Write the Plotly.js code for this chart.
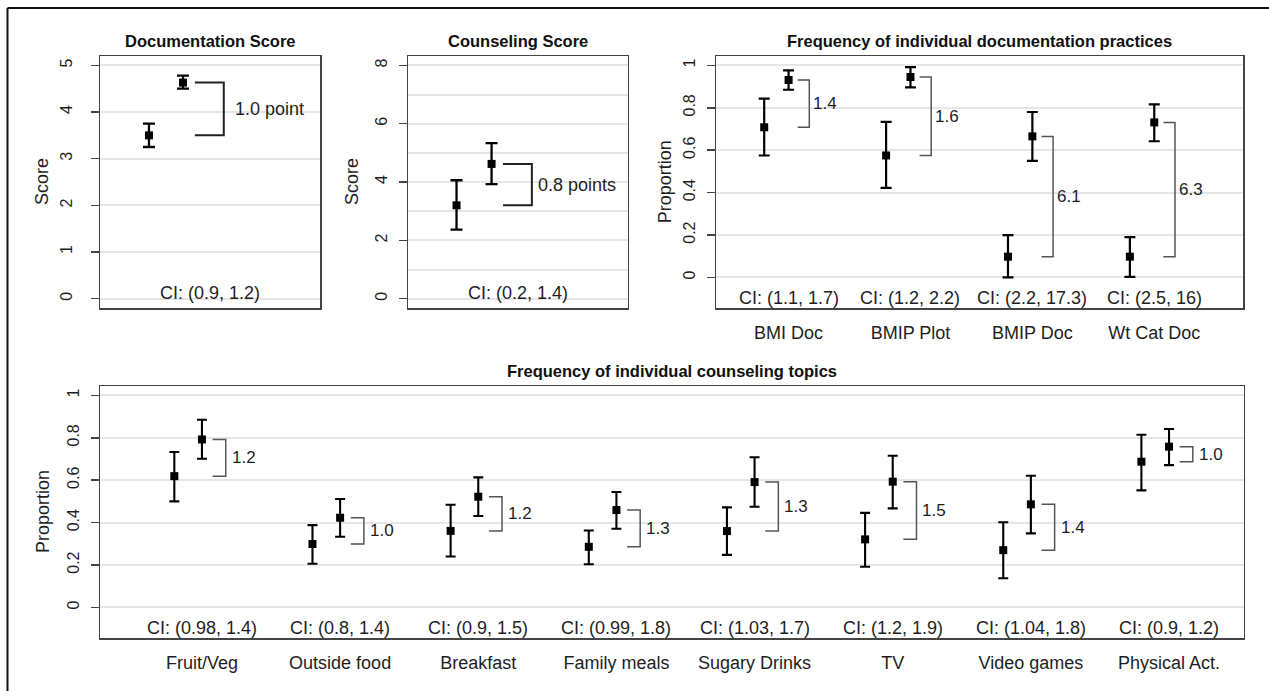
<!DOCTYPE html>
<html>
<head>
<meta charset="utf-8">
<script src="https://cdn.plot.ly/plotly-3.0.1.min.js"></script>
<style>html,body{margin:0;padding:0;background:#fff;}#chart{width:1269px;height:691px;}</style>
</head>
<body>
<div id="chart"></div>
<script>
// ---------------- DATA ----------------
// Panel 1: Documentation Score
const docScoreCtrl = 3.5,  docScoreCtrlLo = 3.25, docScoreCtrlHi = 3.75;
const docScoreInt  = 4.63, docScoreIntLo  = 4.5,  docScoreIntHi  = 4.78;
const docScoreDiff = '1.0 point';
const docScoreCI   = 'CI: (0.9, 1.2)';

// Panel 2: Counseling Score
const cnsScoreCtrl = 3.2,  cnsScoreCtrlLo = 2.37, cnsScoreCtrlHi = 4.06;
const cnsScoreInt  = 4.62, cnsScoreIntLo  = 3.93, cnsScoreIntHi  = 5.33;
const cnsScoreDiff = '0.8 points';
const cnsScoreCI   = 'CI: (0.2, 1.4)';

// Panel 3: Frequency of individual documentation practices
const docCats   = ['BMI Doc', 'BMIP Plot', 'BMIP Doc', 'Wt Cat Doc'];
const docCtrl   = [0.708, 0.575, 0.098, 0.098];
const docCtrlLo = [0.575, 0.422, 0.0,   0.003];
const docCtrlHi = [0.843, 0.733, 0.2,   0.19];
const docInt    = [0.931, 0.945, 0.665, 0.731];
const docIntLo  = [0.885, 0.896, 0.55,  0.642];
const docIntHi  = [0.976, 0.992, 0.78,  0.816];
const docOR     = ['1.4', '1.6', '6.1', '6.3'];
const docCI     = ['CI: (1.1, 1.7)', 'CI: (1.2, 2.2)', 'CI: (2.2, 17.3)', 'CI: (2.5, 16)'];

// Panel 4: Frequency of individual counseling topics
const topCats   = ['Fruit/Veg', 'Outside food', 'Breakfast', 'Family meals', 'Sugary Drinks', 'TV', 'Video games', 'Physical Act.'];
const topCtrl   = [0.619, 0.299, 0.361, 0.286, 0.36,  0.321, 0.27,  0.687];
const topCtrlLo = [0.5,   0.206, 0.24,  0.204, 0.248, 0.192, 0.138, 0.552];
const topCtrlHi = [0.733, 0.388, 0.484, 0.363, 0.472, 0.446, 0.402, 0.814];
const topInt    = [0.792, 0.423, 0.522, 0.459, 0.591, 0.593, 0.486, 0.758];
const topIntLo  = [0.701, 0.333, 0.431, 0.371, 0.475, 0.467, 0.349, 0.671];
const topIntHi  = [0.885, 0.511, 0.613, 0.544, 0.708, 0.715, 0.621, 0.841];
const topOR     = ['1.2', '1.0', '1.2', '1.3', '1.3', '1.5', '1.4', '1.0'];
const topCI     = ['CI: (0.98, 1.4)', 'CI: (0.8, 1.4)', 'CI: (0.9, 1.5)', 'CI: (0.99, 1.8)', 'CI: (1.03, 1.7)', 'CI: (1.2, 1.9)', 'CI: (1.04, 1.8)', 'CI: (0.9, 1.2)'];

// ---------------- STYLE / LAYOUT ----------------
const W = 1269, H = 691;
const FONT = 'Liberation Sans, Arial, Helvetica, sans-serif';
const TXT = '#1e1e1e';
const LINE = '#444';
const GRID = '#e6e6e6';
const CTRL_OFF = 0.2;

function px(x) { return x / W; }
function py(y) { return 1 - y / H; }
function xd(l, r) { return [px(l), px(r)]; }
function yd(t, b) { return [py(b), py(t)]; }

const traces = [];
const annotations = [];

function pointTrace(xa, ya, xs, ys, lo, hi, cap, thick) {
  return {
    type: 'scatter', mode: 'markers', xaxis: xa, yaxis: ya,
    x: xs, y: ys,
    marker: { symbol: 'square', size: 8, color: '#000' },
    error_y: {
      type: 'data', symmetric: false,
      array: ys.map((v, i) => hi[i] - v),
      arrayminus: ys.map((v, i) => v - lo[i]),
      color: '#000', thickness: thick, width: cap
    },
    hoverinfo: 'skip', cliponaxis: false
  };
}

function bracketTrace(xa, ya, pos, ctrl, inter, a, b, color, width) {
  const xs = [], ys = [];
  pos.forEach((p, i) => {
    xs.push(p + a, p + b, p + b, p + a, null);
    ys.push(inter[i], inter[i], ctrl[i], ctrl[i], null);
  });
  return {
    type: 'scatter', mode: 'lines', xaxis: xa, yaxis: ya, x: xs, y: ys,
    line: { color: color, width: width }, hoverinfo: 'skip', cliponaxis: false
  };
}

function panel(opt) {
  const pos = opt.ctrl.map((_, i) => i + 1);
  traces.push(pointTrace(opt.xa, opt.ya, pos.map(p => p - CTRL_OFF), opt.ctrl, opt.ctrlLo, opt.ctrlHi, opt.cap, opt.thick));
  traces.push(pointTrace(opt.xa, opt.ya, pos, opt.inter, opt.interLo, opt.interHi, opt.cap, opt.thick));
  traces.push(bracketTrace(opt.xa, opt.ya, pos, opt.ctrl, opt.inter, opt.br[0], opt.br[1], opt.brColor, opt.brWidth));
  pos.forEach((p, i) => {
    annotations.push({
      xref: opt.xa, yref: opt.ya, x: p + opt.br[1], y: (opt.ctrl[i] + opt.inter[i]) / 2,
      xanchor: 'left', yanchor: 'middle', xshift: opt.txtShift, showarrow: false,
      text: opt.diff[i], font: { family: FONT, size: opt.diffSize, color: TXT }
    });
    annotations.push({
      xref: opt.ciX === 'center' ? opt.xa + ' domain' : opt.xa,
      yref: opt.ya, x: opt.ciX === 'center' ? 0.5 : p, y: opt.ciY,
      xanchor: 'center', yanchor: 'middle', showarrow: false,
      text: opt.ci[i], font: { family: FONT, size: 18, color: TXT }
    });
  });
  annotations.push({
    xref: opt.xa + ' domain', yref: opt.ya + ' domain', x: 0.5, y: 1, yshift: 15,
    xanchor: 'center', yanchor: 'middle', showarrow: false,
    text: '<b>' + opt.title + '</b>', font: { family: FONT, size: 16.5, color: '#111' }
  });
  annotations.push({
    xref: opt.xa + ' domain', yref: opt.ya + ' domain', x: 0, y: 0.5, xshift: -opt.ytitleOff,
    xanchor: 'center', yanchor: 'middle', textangle: -90, showarrow: false,
    text: opt.ytitle, font: { family: FONT, size: 18, color: TXT }
  });
}

panel({ xa: 'x', ya: 'y', ctrl: [docScoreCtrl], ctrlLo: [docScoreCtrlLo], ctrlHi: [docScoreCtrlHi],
  inter: [docScoreInt], interLo: [docScoreIntLo], interHi: [docScoreIntHi],
  diff: [docScoreDiff], ci: [docScoreCI], ciX: 'center', ciY: 0.13,
  br: [0.07, 0.24], brColor: '#222', brWidth: 2, txtShift: 9, diffSize: 18, cap: 6, thick: 2.3,
  title: 'Documentation Score', ytitle: 'Score', ytitleOff: 58 });

panel({ xa: 'x2', ya: 'y2', ctrl: [cnsScoreCtrl], ctrlLo: [cnsScoreCtrlLo], ctrlHi: [cnsScoreCtrlHi],
  inter: [cnsScoreInt], interLo: [cnsScoreIntLo], interHi: [cnsScoreIntHi],
  diff: [cnsScoreDiff], ci: [cnsScoreCI], ciX: 'center', ciY: 0.2,
  br: [0.065, 0.23], brColor: '#222', brWidth: 2, txtShift: 4, diffSize: 18, cap: 6, thick: 2.3,
  title: 'Counseling Score', ytitle: 'Score', ytitleOff: 56 });

panel({ xa: 'x3', ya: 'y3', ctrl: docCtrl, ctrlLo: docCtrlLo, ctrlHi: docCtrlHi,
  inter: docInt, interLo: docIntLo, interHi: docIntHi,
  diff: docOR, ci: docCI, ciX: 'cat', ciY: -0.095,
  br: [0.075, 0.17], brColor: '#555', brWidth: 1.5, txtShift: 2, diffSize: 17, cap: 5.5, thick: 2.2,
  title: 'Frequency of individual documentation practices', ytitle: 'Proportion', ytitleOff: 51 });

panel({ xa: 'x4', ya: 'y4', ctrl: topCtrl, ctrlLo: topCtrlLo, ctrlHi: topCtrlHi,
  inter: topInt, interLo: topIntLo, interHi: topIntHi,
  diff: topOR, ci: topCI, ciX: 'cat', ciY: -0.097,
  br: [0.077, 0.172], brColor: '#555', brWidth: 1.5, txtShift: 4, diffSize: 17, cap: 5, thick: 2.1,
  title: 'Frequency of individual counseling topics', ytitle: 'Proportion', ytitleOff: 57 });

const frameAxis = { showline: true, mirror: true, linecolor: LINE, linewidth: 1.5, zeroline: false, fixedrange: true };

function xAxis(domain, range, anchor, cats) {
  const ax = Object.assign({}, frameAxis, { domain: domain, range: range, anchor: anchor, showgrid: false, ticks: '' });
  if (cats) {
    ax.tickmode = 'array';
    ax.tickvals = cats.map((_, i) => i + 1);
    ax.ticktext = cats;
    ax.tickfont = { family: FONT, size: 18, color: TXT };
    ax.ticklabelstandoff = 8;
  } else {
    ax.showticklabels = false;
  }
  return ax;
}
function yAxis(domain, range, anchor, dtick, minorDtick, standoff) {
  const ax = Object.assign({}, frameAxis, {
    domain: domain, range: range, anchor: anchor,
    tickmode: 'linear', tick0: 0, dtick: dtick,
    ticks: 'outside', ticklen: 8, tickwidth: 1.5, tickcolor: LINE,
    tickangle: -90, tickfont: { family: FONT, size: 16, color: TXT },
    ticklabelstandoff: standoff,
    showgrid: true, gridcolor: GRID, gridwidth: 2
  });
  if (minorDtick) ax.minor = { tick0: 0, dtick: minorDtick, showgrid: true, gridcolor: GRID, gridwidth: 2, ticks: '' };
  return ax;
}

const layout = {
  width: W, height: H, margin: { l: 0, r: 0, t: 0, b: 0 },
  paper_bgcolor: '#fff', plot_bgcolor: '#fff', showlegend: false,
  font: { family: FONT, color: TXT },
  xaxis:  xAxis(xd(100, 320),   [0.512, 1.806], 'y'),
  yaxis:  yAxis(yd(56, 308),    [-0.2, 5.2], 'x', 1, null, 12),
  xaxis2: xAxis(xd(408, 627.7), [0.523, 1.777], 'y2'),
  yaxis2: yAxis(yd(56, 308),    [-0.32, 8.32], 'x2', 2, 1, 5),
  xaxis3: xAxis(xd(716.3, 1243), [0.407, 4.728], 'y3', docCats),
  yaxis3: yAxis(yd(56, 308),    [-0.144, 1.044], 'x3', 0.2, null, 5),
  xaxis4: xAxis(xd(100, 1243.5), [0.262, 8.539], 'y4', topCats),
  yaxis4: yAxis(yd(386, 638),   [-0.144, 1.044], 'x4', 0.2, null, 5),
  annotations: annotations,
  shapes: [
    { type: 'line', xref: 'paper', yref: 'paper', x0: px(7.5), x1: 1.02, y0: py(8), y1: py(8), line: { color: '#111', width: 2 } },
    { type: 'line', xref: 'paper', yref: 'paper', x0: px(7.5), x1: px(7.5), y0: -0.02, y1: py(8), line: { color: '#111', width: 2 } }
  ]
};

Plotly.newPlot('chart', traces, layout, { displayModeBar: false, staticPlot: true });
</script>
</body>
</html>
